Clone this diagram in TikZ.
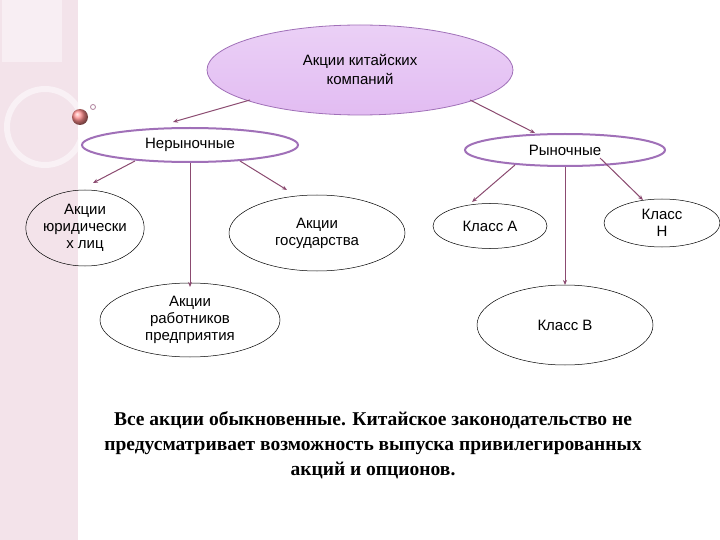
\documentclass[tikz,border=0pt]{standalone}
\usepackage{fontspec}
\setmainfont{Liberation Sans}
\newfontfamily\serifb{Liberation Serif}
\usetikzlibrary{arrows.meta,shapes.geometric}
\definecolor{arr}{HTML}{8B4A70}
\definecolor{pur}{HTML}{A070B8}
\definecolor{topf}{HTML}{E2BCF2}
\definecolor{strip}{HTML}{F3E3EA}
\tikzset{
 el/.style={ellipse,draw=black,line width=0.5pt,inner sep=0pt,align=center,font=\fontsize{15}{17}\selectfont},
 pel/.style={ellipse,draw=pur,line width=2pt,fill=white,inner sep=0pt,align=center,font=\fontsize{15}{17}\selectfont},
 ar/.style={draw=arr,line width=1pt,-{Stealth[length=5pt,width=4pt]}}
}
\begin{document}
\begin{tikzpicture}[x=1pt,y=-1pt]
\useasboundingbox (0,0) rectangle (720,540);
\fill[white] (0,0) rectangle (720,540);
\fill[strip] (0,0) rectangle (78,540);
\fill[white!40!strip] (2,0) rectangle (62,62);
\begin{scope}
\clip (0,0) rectangle (78,540);
\draw[white!50!strip,line width=6pt] (45,127) circle (38);
\end{scope}
\shade[ball color=red!45!white] (80,117) circle (8);
\draw[arr!70,line width=0.8pt] (93,107) circle (2.5);
\node[ellipse,draw=pur,line width=0.8pt,top color=topf!70!white,bottom color=topf,minimum width=306,minimum height=90,align=center,font=\fontsize{15}{19}\selectfont] (top) at (360,70) {Акции китайских\\компаний};
\node[pel,minimum width=216,minimum height=34] (n) at (190,145) {Нерыночные};
\node[pel,minimum width=200,minimum height=32] (r) at (565,150) {Рыночные};
\node[el,minimum width=116,minimum height=76] (j) at (85,228) {Акции\\юридически\\х лиц};
\node[el,minimum width=176,minimum height=76] (g) at (317,233) {Акции\\государства};
\node[el,minimum width=180,minimum height=74] (w) at (190,320) {Акции\\работников\\предприятия};
\node[el,minimum width=114,minimum height=45] (a) at (490,226) {Класс А};
\node[el,minimum width=116,minimum height=48] (h) at (662,223) {Класс\\Н};
\node[el,minimum width=176,minimum height=80] (b) at (565,325) {Класс В};
\coordinate (t1) at (250,100); \coordinate (t2) at (470,100);
\draw[ar] (t1) -- (173,122);
\draw[ar] (t2) -- (535,133);
\draw[ar] (135,161) -- (93,183);
\draw[ar] (n.south) -- (190,287);
\draw[ar] (240,161) -- (287,190);
\draw[ar] (515,165) -- (472,202);
\draw[ar] (r.south) -- (565,285);
\draw[ar] (600,158) -- (643,200);
\node[font=\serifb\bfseries\fontsize{19.5}{25}\selectfont,align=center] (txt) at (373,445) {Все акции обыкновенные. Китайское законодательство не\\предусматривает возможность выпуска привилегированных\\акций и опционов.};
\end{tikzpicture}
\end{document}
